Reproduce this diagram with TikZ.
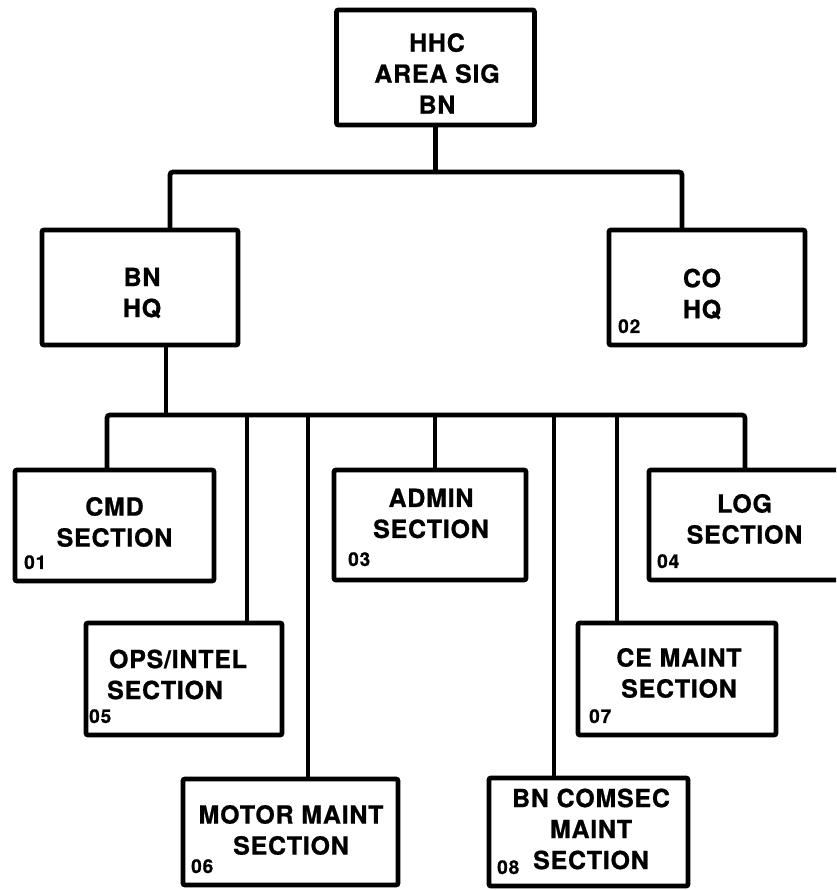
\documentclass[tikz,border=0pt]{standalone}
\usepackage{fontspec}
\setmainfont{TeX Gyre Heros}
\newfontfamily\lblfont{TeX Gyre Heros}[LetterSpace=3,FakeBold=0.8]
\newfontfamily\numfont{TeX Gyre Heros}[LetterSpace=5,FakeBold=0.8]
\usetikzlibrary{calc}
\begin{document}
\begin{tikzpicture}[x=1pt,y=1pt,
  orgbox/.style={draw, line width=4.8pt, rounded corners=2pt, inner sep=0pt, outer sep=0pt},
  lbl/.style={align=center, inner sep=0pt, font=\lblfont\bfseries\fontsize{25}{31}\selectfont},
  num/.style={anchor=base west, inner sep=0pt, font=\numfont\bfseries\fontsize{19}{20}\selectfont},
  wire/.style={line width=4.8pt}]
\clip (0,0) rectangle (836,890);
\fill[white] (0,0) rectangle (836,890);
% boxes
\node[orgbox, minimum width=198pt, minimum height=115pt] (hhc) at (435.5,822.5) {};
\node[orgbox, minimum width=196pt, minimum height=115pt] (bnhq) at (140,602.5) {};
\node[orgbox, minimum width=196pt, minimum height=115pt] (cohq) at (707,602.5) {};
\node[orgbox, minimum width=199pt, minimum height=111pt] (cmd) at (114.5,364.5) {};
\node[orgbox, minimum width=192pt, minimum height=110pt] (admin) at (430,365) {};
\node[orgbox, minimum width=199pt, minimum height=110pt] (log) at (748.5,365) {};
\node[orgbox, minimum width=196pt, minimum height=112pt] (ops) at (184,211) {};
\node[orgbox, minimum width=198pt, minimum height=112pt] (ce) at (677,211) {};
\node[orgbox, minimum width=215pt, minimum height=106pt] (motor) at (290.5,58) {};
\node[orgbox, minimum width=199pt, minimum height=108pt] (comsec) at (588.5,58) {};
% labels
\node[lbl] (hhct) at (437,816.5) {HHC\\AREA SIG\\BN};
\node[lbl] (bnhqt) at (142,597) {BN\\HQ};
\node[lbl] (cohqt) at (702,596) {CO\\HQ};
\node[lbl] (cmdt) at (114.5,368) {CMD\\SECTION};
\node[lbl] (admint) at (431,376.5) {ADMIN\\SECTION};
\node[lbl] (logt) at (744.5,371) {LOG\\SECTION};
\node[lbl] (opst) at (178,215.5) {OPS/INTEL\\SECTION\kern26pt};
\node[lbl] (cet) at (679,217) {CE MAINT\\SECTION};
\node[lbl] (motort) at (291,60) {MOTOR MAINT\\SECTION};
\node[lbl] (comsect) at (591,61) {BN COMSEC\\MAINT\\SECTION};
% numbers
\node[num] (n02) at ($(cohq.south west)+(9,12)$) {02};
\node[num] (n01) at ($(cmd.south west)+(9,12)$) {01};
\node[num] (n03) at ($(admin.south west)+(14,14)$) {03};
\node[num] (n04) at ($(log.south west)+(8,12)$) {04};
\node[num] (n05) at ($(ops.south west)+(3,12)$) {05};
\node[num] (n07) at ($(ce.south west)+(11,12)$) {07};
\node[num] (n06) at ($(motor.south west)+(8,12)$) {06};
\node[num] (n08) at ($(comsec.south west)+(8,12)$) {08};
% upper tree
\coordinate (tl) at (170,718);
\coordinate (tr) at (682,718);
\draw[wire] (hhc.south) -- (hhc.south |- tl);
\draw[wire, rounded corners=3pt] (bnhq.north -| tl) -- (tl) -- (tr) -- (tr |- cohq.north);
% lower bus
\coordinate (bq) at (166,475);
\coordinate (bl) at (107,475);
\coordinate (br) at (745,475);
\coordinate (d2) at (247,475);
\coordinate (d3) at (308,475);
\coordinate (d4) at (435,475);
\coordinate (d5) at (554,475);
\coordinate (d6) at (617,475);
\draw[wire] (bnhq.south -| bq) -- (bq);
\draw[wire, rounded corners=3pt] (bl |- cmd.north) -- (bl) -- (br) -- (br |- log.north);
\draw[wire] (d2) -- (d2 |- ops.north);
\draw[wire] (d3) -- (d3 |- motor.north);
\draw[wire] (d4) -- (d4 |- admin.north);
\draw[wire] (d5) -- (d5 |- comsec.north);
\draw[wire] (d6) -- (d6 |- ce.north);
\end{tikzpicture}
\end{document}
